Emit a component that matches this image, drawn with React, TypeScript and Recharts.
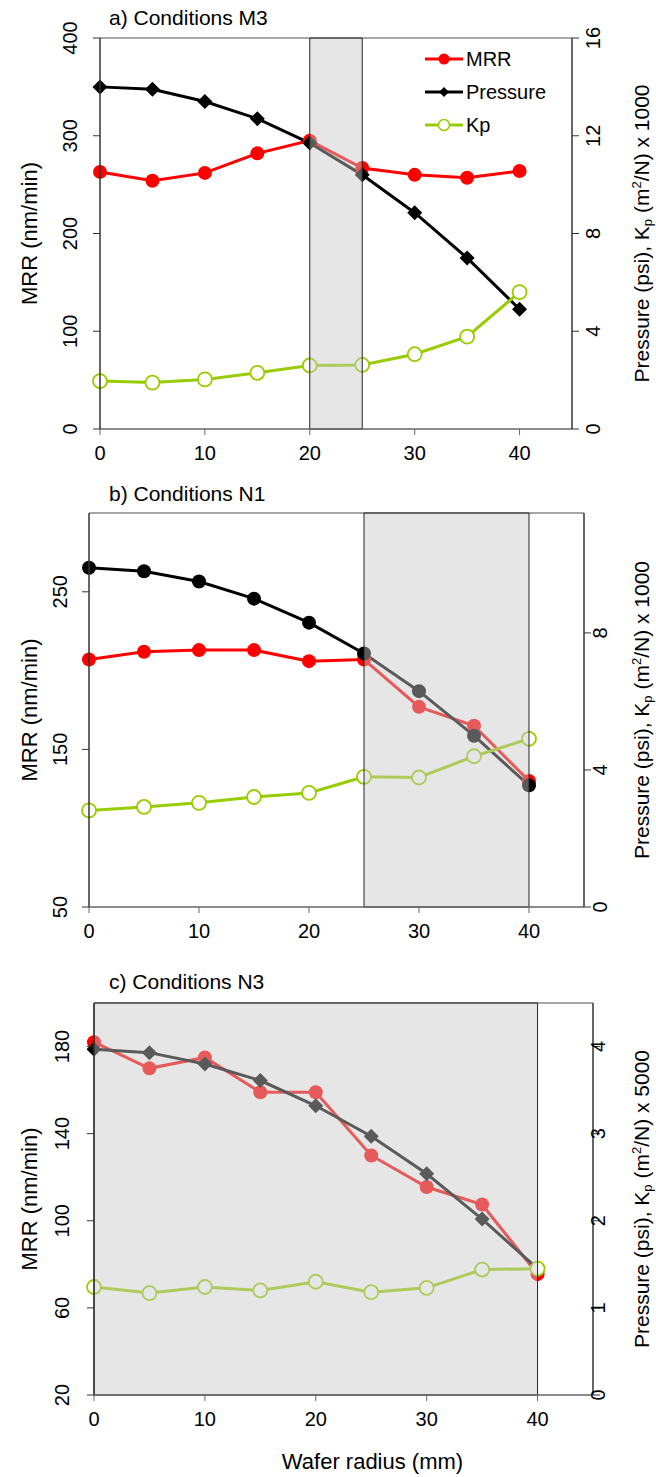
import React from "react";
import {
  ComposedChart,
  Line,
  XAxis,
  YAxis,
  ReferenceArea,
  ReferenceLine,
  Legend,
} from "recharts";

const radius = [0, 5, 10, 15, 20, 25, 30, 35, 40];
const xTicks = [0, 10, 20, 30, 40];

// a) Conditions M3
const mrrM3 = [263, 254, 262, 282, 295, 267, 260, 257, 264];
const pressureM3 = [14.0, 13.9, 13.4, 12.7, 11.7, 10.4, 8.85, 7.0, 4.9];
const kpM3 = [1.96, 1.9, 2.03, 2.3, 2.6, 2.62, 3.06, 3.78, 5.6];

// b) Conditions N1
const mrrN1 = [207, 212, 213, 213, 206, 207, 177, 165, 130];
const pressureN1 = [9.9, 9.8, 9.5, 9.0, 8.3, 7.4, 6.3, 5.0, 3.55];
const kpN1 = [2.82, 2.92, 3.04, 3.21, 3.33, 3.8, 3.78, 4.4, 4.91];

// c) Conditions N3
const mrrN3 = [182, 170, 175, 159, 159, 130, 115.5, 107.5, 75.5];
const pressureN3 = [3.97, 3.93, 3.8, 3.61, 3.32, 2.97, 2.54, 2.02, 1.45];
const kpN3 = [1.24, 1.17, 1.24, 1.2, 1.3, 1.18, 1.23, 1.44, 1.45];

const legendOrder = ["mrr", "pressure", "kp"];

const FONT = "'Liberation Sans', Arial, sans-serif";
const RED = "#ff0000";
const GREEN = "#99cc00";
const W = 656;

type Row = { r: number; mrr: number; pressure: number; kp: number };

function rows(mrr: number[], pressure: number[], kp: number[]): Row[] {
  return radius.map((r, i) => ({ r, mrr: mrr[i], pressure: pressure[i], kp: kp[i] }));
}

function circleDot(color: string) {
  return (p: any) => <circle key={`c-${p.index}`} cx={p.cx} cy={p.cy} r={7} fill={color} />;
}
function hollowDot(color: string) {
  return (p: any) => (
    <circle key={`h-${p.index}`} cx={p.cx} cy={p.cy} r={7} fill="#fff" stroke={color} strokeWidth={1.8} />
  );
}
function diamondDot(color: string) {
  return (p: any) => {
    const s = 7.5;
    return (
      <polygon
        key={`d-${p.index}`}
        points={`${p.cx},${p.cy - s} ${p.cx + s},${p.cy} ${p.cx},${p.cy + s} ${p.cx - s},${p.cy}`}
        fill={color}
      />
    );
  };
}

function LegendBox(props: any) {
  const payload = [...(props.payload || [])].sort(
    (a: any, b: any) => legendOrder.indexOf(a.dataKey) - legendOrder.indexOf(b.dataKey)
  );
  return (
    <svg width={170} height={100}>
      {payload.map((p: any, i: number) => {
        const y = 14 + i * 33;
        const c = p.color;
        let mark;
        if (p.dataKey === "mrr") mark = <circle cx={19} cy={y} r={5.5} fill={c} />;
        else if (p.dataKey === "kp")
          mark = <circle cx={19} cy={y} r={5.5} fill="#fff" stroke={c} strokeWidth={1.5} />;
        else mark = <polygon points={`19,${y - 5} 24,${y} 19,${y + 5} 14,${y}`} fill={c} />;
        return (
          <g key={p.value}>
            <line x1={0} x2={38} y1={y} y2={y} stroke={c} strokeWidth={3} />
            {mark}
            <text x={41} y={y + 7} fontSize={20} fontFamily={FONT} fill="#000">
              {p.value}
            </text>
          </g>
        );
      })}
    </svg>
  );
}

type PanelProps = {
  top: number;
  height: number;
  title: string;
  titleTop: number;
  data: Row[];
  plot: { left: number; right: number; top: number; bottom: number };
  leftDomain: [number, number];
  leftTicks: number[];
  rightDomain: [number, number];
  rightTicks: number[];
  leftGap: number;
  rightGap: number;
  shade: [number, number];
  pressureShape: "diamond" | "circle";
  factor: string;
  legend?: boolean;
  xTitle?: boolean;
};

function Panel(props: PanelProps) {
  const { plot, leftGap, rightGap } = props;
  const cy = (plot.top + plot.bottom) / 2;

  const LeftTick = (p: any) => (
    <text
      transform={`translate(${p.x + 7 - leftGap},${p.y}) rotate(-90)`}
      textAnchor="middle"
      fontSize={20}
      fontFamily={FONT}
      fill="#000"
    >
      {p.payload.value}
    </text>
  );
  const RightTick = (p: any) => (
    <text
      transform={`translate(${p.x - 7 + rightGap},${p.y}) rotate(-90)`}
      textAnchor="middle"
      fontSize={20}
      fontFamily={FONT}
      fill="#000"
    >
      {p.payload.value}
    </text>
  );
  const BottomTick = (p: any) => (
    <text x={p.x} y={p.y + 25} textAnchor="middle" fontSize={20} fontFamily={FONT} fill="#000">
      {p.payload.value}
    </text>
  );

  const leftTitle = () => (
    <text
      transform={`translate(37,${cy}) rotate(-90)`}
      textAnchor="middle"
      fontSize={22}
      fontFamily={FONT}
      fill="#000"
    >
      MRR (nm/min)
    </text>
  );
  const rightTitle = () => (
    <text
      transform={`translate(649,${cy}) rotate(-90)`}
      textAnchor="middle"
      fontSize={21}
      fontFamily={FONT}
      fill="#000"
    >
      Pressure (psi), K
      <tspan fontSize={13} dy={3}>p</tspan>
      <tspan dy={-3}> (m</tspan>
      <tspan fontSize={13} dy={-8}>2</tspan>
      <tspan dy={8}>/N) x {props.factor}</tspan>
    </text>
  );
  const bottomTitle = () => (
    <text
      x={(plot.left + plot.right) / 2 + 29}
      y={props.height - 8}
      textAnchor="middle"
      fontSize={22}
      fontFamily={FONT}
      fill="#000"
    >
      Wafer radius (mm)
    </text>
  );

  const pDot = props.pressureShape === "diamond" ? diamondDot("#000") : circleDot("#000");

  return (
    <div style={{ position: "absolute", left: 0, top: props.top, width: W, height: props.height }}>
      <ComposedChart
        width={W}
        height={props.height}
        data={props.data}
        margin={{ top: plot.top, right: 0, bottom: 0, left: 0 }}
      >
        <XAxis
          type="number"
          dataKey="r"
          domain={[0, 45]}
          ticks={xTicks}
          interval={0}
          height={props.height - plot.bottom}
          axisLine={{ stroke: "#666", strokeWidth: 1.5 }}
          tickLine={{ stroke: "#666" }}
          tickSize={6}
          tickMargin={0}
          tick={BottomTick}
          label={props.xTitle ? bottomTitle : undefined}
          zIndex={700}
        />
        <YAxis
          yAxisId="left"
          domain={props.leftDomain}
          ticks={props.leftTicks}
          interval={0}
          width={plot.left}
          axisLine={{ stroke: "#333", strokeWidth: 1.5 }}
          tickLine={{ stroke: "#333" }}
          tickSize={7}
          tickMargin={0}
          tick={LeftTick}
          label={leftTitle}
          zIndex={700}
        />
        <YAxis
          yAxisId="right"
          orientation="right"
          domain={props.rightDomain}
          ticks={props.rightTicks}
          interval={0}
          width={W - plot.right}
          axisLine={{ stroke: "#333", strokeWidth: 1.5 }}
          tickLine={{ stroke: "#333" }}
          tickSize={7}
          tickMargin={0}
          tick={RightTick}
          label={rightTitle}
          zIndex={700}
        />
        <ReferenceLine yAxisId="left" y={props.leftDomain[1]} stroke="#888" strokeWidth={1.5} />
        <Line
          yAxisId="left"
          dataKey="mrr"
          name="MRR"
          stroke={RED}
          strokeWidth={3}
          dot={circleDot(RED)}
          isAnimationActive={false}
        />
        <Line
          yAxisId="right"
          dataKey="pressure"
          name="Pressure"
          stroke="#000"
          strokeWidth={3}
          dot={pDot}
          isAnimationActive={false}
        />
        <Line
          yAxisId="right"
          dataKey="kp"
          name="Kp"
          stroke={GREEN}
          strokeWidth={3}
          dot={hollowDot(GREEN)}
          isAnimationActive={false}
        />
        <ReferenceArea
          yAxisId="left"
          x1={props.shade[0]}
          x2={props.shade[1]}
          y1={props.leftDomain[0]}
          y2={props.leftDomain[1]}
          fill="#c8c8c8"
          fillOpacity={0.45}
          stroke="#222"
          strokeWidth={1}
          zIndex={650}
        />
        {props.legend && (
          <Legend
            layout="vertical"
            align="center"
            verticalAlign="middle"
            content={LegendBox}
            wrapperStyle={{ left: 425, top: 45, width: 170, height: 100 }}
          />
        )}
      </ComposedChart>
      <div
        style={{
          position: "absolute",
          left: 109,
          top: props.titleTop,
          fontFamily: FONT,
          fontSize: 21,
          lineHeight: "22px",
          whiteSpace: "nowrap",
          color: "#000",
        }}
      >
        {props.title}
      </div>
    </div>
  );
}

export default function App() {
  return (
    <div style={{ position: "absolute", left: 0, top: 0, width: W, height: 1477, background: "#fff" }}>
      <Panel
        top={0}
        height={475}
        title="a) Conditions M3"
        titleTop={7}
        data={rows(mrrM3, pressureM3, kpM3)}
        plot={{ left: 100, right: 572, top: 38, bottom: 429 }}
        leftDomain={[0, 400]}
        leftTicks={[0, 100, 200, 300, 400]}
        rightDomain={[0, 16]}
        rightTicks={[0, 4, 8, 12, 16]}
        leftGap={23}
        rightGap={28}
        shade={[20, 25]}
        pressureShape="diamond"
        factor="1000"
        legend
      />
      <Panel
        top={470}
        height={485}
        title="b) Conditions N1"
        titleTop={13}
        data={rows(mrrN1, pressureN1, kpN1)}
        plot={{ left: 89, right: 584, top: 43, bottom: 437 }}
        leftDomain={[50, 300]}
        leftTicks={[50, 150, 250]}
        rightDomain={[0, 11.5]}
        rightTicks={[0, 4, 8]}
        leftGap={22}
        rightGap={23}
        shade={[25, 40]}
        pressureShape="circle"
        factor="1000"
      />
      <Panel
        top={955}
        height={522}
        title="c) Conditions N3"
        titleTop={16}
        data={rows(mrrN3, pressureN3, kpN3)}
        plot={{ left: 94, right: 593, top: 48, bottom: 440 }}
        leftDomain={[20, 200]}
        leftTicks={[20, 60, 100, 140, 180]}
        rightDomain={[0, 4.5]}
        rightTicks={[0, 1, 2, 3, 4]}
        leftGap={25}
        rightGap={12}
        shade={[0, 40]}
        pressureShape="diamond"
        factor="5000"
        xTitle
      />
    </div>
  );
}
